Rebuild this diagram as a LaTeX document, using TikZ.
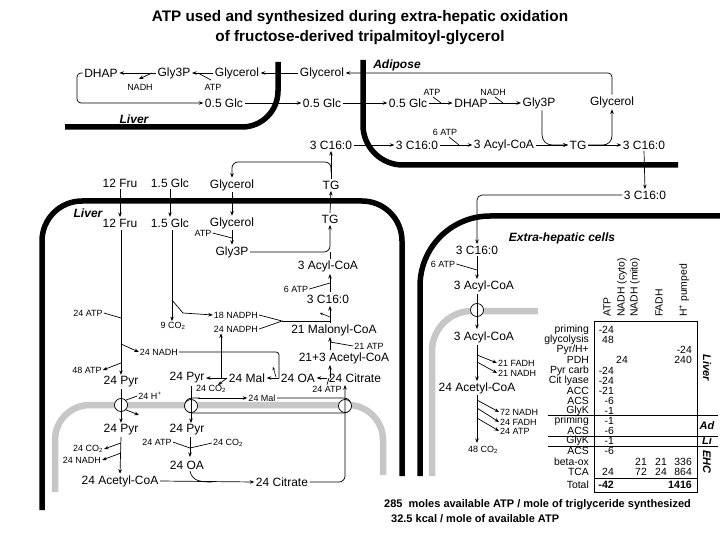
\documentclass[tikz,border=0pt]{standalone}
\usepackage{fontspec}
\setmainfont{Liberation Sans}
\usetikzlibrary{arrows.meta}
\begin{document}
\begin{tikzpicture}[x=1pt,y=-1pt,
  big/.style={font=\fontsize{12}{14}\selectfont, inner sep=1.5pt},
  sm/.style={font=\fontsize{9}{10}\selectfont, inner sep=1pt},
  tb/.style={font=\fontsize{10.4}{12}\selectfont, inner sep=0pt},
  lab/.style={font=\bfseries\itshape\fontsize{12}{14}\selectfont, inner sep=0pt},
  tlab/.style={font=\bfseries\itshape\fontsize{11}{12}\selectfont, inner sep=0pt},
  ar/.style={line width=0.7pt, -{Stealth[length=4.5pt,width=3.5pt]}},
  sar/.style={line width=0.6pt, -{Stealth[length=3pt,width=2.6pt]}},
  ln/.style={line width=0.7pt},
  memb/.style={line width=5.5pt},
  mito/.style={line width=6.5pt, draw=black!22},
  port/.style={circle, draw, fill=white, line width=0.7pt, minimum size=13pt, inner sep=0pt}]
\useasboundingbox (0,0) rectangle (720,540);

% ---------- title
\node[font=\bfseries\fontsize{15.3}{20}\selectfont, align=center] (title) at (360,28)
  {ATP used and synthesized during extra-hepatic oxidation\\of fructose-derived tripalmitoyl-glycerol};

% ---------- membranes
\draw[memb, rounded corners=36pt] (65,127) -- (278,127) -- (278,62);
\draw[memb, rounded corners=40pt] (363,60) -- (363,165) -- (678,165);
\draw[memb, rounded corners=40pt] (42,510) -- (42,201) -- (402,201) -- (402,476);
\draw[memb, rounded corners=70pt] (420,476) -- (420,216) -- (720,216);
\draw[mito, rounded corners=35pt] (55,492) -- (55,405) -- (383,405) -- (383,475);
\draw[mito, rounded corners=40pt] (432,476) -- (432,311) -- (538,311);

% ---------- region labels
\node[lab] (livA) at (134,119) {Liver};
\node[lab] (adip) at (397,65) {Adipose};
\node[lab] (livB) at (88,213) {Liver};
\node[lab] (ehc) at (562,238) {Extra-hepatic cells};

% ---------- top: liver / blood / adipose
\node[big] (dhap) at (101,73) {DHAP};
\node[big] (gly3pA) at (174,73) {Gly3P};
\node[big] (glycA) at (237,73) {Glycerol};
\node[big] (glycB) at (322,73) {Glycerol};
\node[sm] (nadhA) at (140,87) {NADH};
\node[sm] (atpA) at (213,87) {ATP};
\node[big] (glcA) at (224,103) {0.5 Glc};
\node[big] (glcB) at (322,103) {0.5 Glc};
\node[big] (glcC) at (408,103) {0.5 Glc};
\node[big] (dhapC) at (471,103) {DHAP};
\node[big] (gly3pC) at (539,103) {Gly3P};
\node[big] (glycC) at (612,102) {Glycerol};
\node[sm] (atpC) at (432,92) {ATP};
\node[sm] (nadhC) at (493,92) {NADH};
\node[big] (c16A) at (331,145) {3 C16:0};
\node[big] (c16B) at (417,145) {3 C16:0};
\node[big] (acylC) at (504,145) {3 Acyl-CoA};
\node[big] (tgC) at (578,145) {TG};
\node[big] (c16C) at (644,145) {3 C16:0};
\node[sm] (atp6C) at (445,132) {6 ATP};
\node[big] (c16D) at (645,195) {3 C16:0};

\draw[ar] (gly3pA.west) -- (dhap.east);
\draw[ar] (152,73) -- (139,79);
\draw[ar] (glycA.west) -- (gly3pA.east);
\draw[ln] (198,73) -- (211,80);
\draw[ar] (glycB.west) -- (glycA.east);
\draw[ar, rounded corners=4pt] (dhap.west) -- (77,73) -- (77,103) -- (glcA.west);
\draw[ar] (glcA.east) -- (glcB.west);
\draw[ar] (glcB.east) -- (glcC.west);
\draw[ar, rounded corners=4pt] (glycC.north) |- (glycB.east);
\draw[ar] (glcC.east) -- (dhapC.west);
\draw[ln] (433,97) -- (441,103);
\draw[ar] (dhapC.east) -- (gly3pC.west);
\draw[ln] (495,97) -- (503,103);
\draw[ar, rounded corners=10pt] ([xshift=3pt]gly3pC.south) |- (tgC.west);
\draw[ar] (acylC.east) -- (tgC.west);
\draw[ar] (tgC.east) -- (c16C.west);
\draw[ar, rounded corners=9pt] (tgC.east) -| (glycC.south);
\draw[ar] (c16B.east) -- (acylC.west);
\draw[ln] (449,137) -- (459,145);
\draw[ar] (c16A.east) -- (c16B.west);
\draw[ar] (c16C.south) -- (c16D.north);

% ---------- blood between liver and adipose
\node[big] (fruO) at (120,183) {12 Fru};
\node[big] (glcO) at (170,183) {1.5 Glc};
\node[big] (glycO) at (232,185) {Glycerol};
\node[big] (tgO) at (331,185) {TG};
\draw[ar] (tgO.north) -- (c16A.south);
\draw[ar, rounded corners=6pt] (331,172) -- (331,162) -- (232,162) -- (glycO.north);

% ---------- liver (lower)
\node[big] (fruI) at (120,223) {12 Fru};
\node[big] (glcI) at (170,223) {1.5 Glc};
\node[big] (glycI) at (232,223) {Glycerol};
\node[big] (tgI) at (330,219) {TG};
\node[sm] (atpI) at (203,233) {ATP};
\node[big] (gly3pI) at (232,252) {Gly3P};
\node[big] (acylI) at (328,266) {3 Acyl-CoA};
\node[sm] (atp6I) at (296,289) {6 ATP};
\node[big] (c16I) at (328,299) {3 C16:0};
\node[big] (malcoa) at (334,330) {21 Malonyl-CoA};
\node[sm] (nadph18) at (236,315) {18 NADPH};
\node[sm] (nadph24) at (236,329) {24 NADPH};
\node[sm] (co2a) at (173,326) {9 CO\textsubscript{2}};
\node[sm] (atp24a) at (88,313) {24 ATP};
\node[sm] (nadh24a) at (159,352) {24 NADH};
\node[sm] (atp48) at (87,370) {48 ATP};
\node[big] (acetyl) at (344,358) {21+3 Acetyl-CoA};
\node[sm] (atp21) at (369,346) {21 ATP};
\node[big] (pyrA) at (121,382) {24 Pyr};
\node[big] (pyrB) at (187,378) {24 Pyr};
\node[big] (mal) at (247,378) {24 Mal};
\node[big] (oa) at (298,378) {24 OA};
\node[big] (cit) at (355,378) {24 Citrate};
\node[sm] (atp24b) at (327,389) {24 ATP};
\node[sm] (co2b) at (211,389) {24 CO\textsubscript{2}};
\node[sm] (hplus) at (150,396) {24 H\textsuperscript{+}};
\node[sm] (malm) at (262,398) {24 Mal};
\node[big] (pyrC) at (121,430) {24 Pyr};
\node[big] (pyrD) at (187,430) {24 Pyr};
\node[sm] (atp24c) at (157,442) {24 ATP};
\node[sm] (co2c) at (228,443) {24 CO\textsubscript{2}};
\node[sm] (co2d) at (88,449) {24 CO\textsubscript{2}};
\node[sm] (nadhd) at (82,460) {24 NADH};
\node[big] (oaM) at (187,465) {24 OA};
\node[big] (acetylM) at (120,481) {24 Acetyl-CoA};
\node[big] (citM) at (282,482) {24 Citrate};

\draw[ar] (fruO.south) -- (fruI.north);
\draw[ar] (glcO.south) -- (glcI.north);
\draw[ar] (glycO.south) -- (glycI.north);
\draw[ar] (tgI.north) -- (tgO.south);
\draw[ar] (glycI.south) -- (gly3pI.north);
\draw[ln] (atpI.east) -- (232,238);
\draw[ar, rounded corners=6pt] (gly3pI.east) -- (330,252) -- (tgI.south);
\draw[ln] (330,259) -- (330,252);
\draw[ar] (330,292) -- (330,274);
\draw[ln] (atp6I.east) -- (330,283);
\draw[ar] (330,323) -- (330,306);
\draw[ln] (nadph18.east) -- (282,321) -- (nadph24.east);
\draw[ln] (282,321) -- (330,321);
\draw[sar] (330,317) -- (320,313);
\draw[ar] (330,350) -- (330,337);
\draw[ln] (330,342) -- (atp21.west);
\draw[ar] (cit.west) -- (oa.east);
\draw[ar] (330,378) -- (330,365);
\draw[ln] (atp24b.north) -- (329,378);
\draw[ar] (oa.west) -- (mal.east);
\draw[ln, rounded corners=3pt] (nadh24a.east) -- (279,352) -- (279,378);
\draw[sar] (276,377) -- (273,367);
\draw[ar] (mal.west) -- (pyrB.east);
\draw[ar] (221,378) -- (nadph24.south -| 221,0);
\draw[ar] (227,378) -- (218,385);
\draw[ar] (172,230) -- (co2a.north -| 172,0);
\draw[ar] (172,300) -- (183,313) -- (nadph18.west);
\draw[ar] (121,230) -- (pyrA.north);
\draw[ln] (atp24a.east) -- (121,318);
\draw[ar] (121,344) -- (nadh24a.west);
\draw[ar] (121,363) -- (atp48.east);

% transporters
\draw[ln, rounded corners=7pt] (277,398) -- (351,398) -- (351,413) -- (185,413) -- (185,398) -- (200,398);
\draw[ar] (198,398) -- (malm.west);
\node[port] (p1) at (121,405) {};
\node[port] (p2) at (191,406) {};
\node[port] (p3) at (345,406) {};
\draw[ar] (pyrA.south) -- (pyrC.north);
\draw[ln] (hplus.west) -- (p1.north east);
\draw[ar] (p1.south east) -- (139,415);
\draw[ar] (191,386) -- (191,423);
\draw[ar] (pyrC.south) -- (acetylM.north);
\draw[ar] (121,443) -- (co2d.east);
\draw[ar] (121,453) -- (nadhd.east);
\draw[ar] (190,437) -- (190,457);
\draw[ln] (atp24c.east) -- (190,448);
\draw[ln] (co2c.west) -- (190,448);
\draw[ar] (acetylM.east) -- (citM.west);
\draw[ln] (oaM.south -| 190,0) .. controls (192,480) and (198,482) .. (212,482);
\draw[ar, rounded corners=6pt] (citM.east) -- (345,482) -- (345,385);

% ---------- extra-hepatic cells
\node[big] (c16E) at (477,250) {3 C16:0};
\node[sm] (atp6E) at (443,264) {6 ATP};
\node[big] (acylE) at (484,286) {3 Acyl-CoA};
\node[big] (acylF) at (484,337) {3 Acyl-CoA};
\node[sm, anchor=west] (fadh21) at (497,363) {21 FADH};
\node[sm, anchor=west] (nadh21) at (497,373) {21 NADH};
\node[big] (acetE) at (477,388) {24 Acetyl-CoA};
\node[sm, anchor=west] (nadh72) at (499,412) {72 NADH};
\node[sm, anchor=west] (fadh24) at (499,422) {24 FADH};
\node[sm, anchor=west] (atp24e) at (499,431) {24 ATP};
\node[sm] (co2e) at (483,450) {48 CO\textsubscript{2}};
\node[port] (p4) at (477,310) {};
\draw[ar, rounded corners=5pt] (c16D.west) -| (c16E.north);
\draw[ar] (c16E.south) -- (477,279);
\draw[ln] (atp6E.east) -- (477,270);
\draw[ar] (477,294) -- (477,329);
\draw[ar] (477,345) -- (477,381);
\draw[ar] (477,355) -- (fadh21.west);
\draw[ar] (477,362) -- (nadh21.west);
\draw[ar] (477,395) -- (477,443);
\draw[ar] (477,400) -- (nadh72.west);
\draw[ar] (477,408) -- (fadh24.west);
\draw[ar] (477,418) -- (atp24e.west);

% ---------- table
\foreach \t/\xx in {ATP/607, NADH (cyto)/622, NADH (mito)/635, FADH/659}
  \node[tb, rotate=90, anchor=west] at (\xx,317) {\t};
\node[tb, rotate=90, anchor=west] (hpump) at (684,317) {H\textsuperscript{+} pumped};
\draw[ln] (594,321) rectangle (697,492);
\draw[ln] (548,415) -- (718,415);
\draw[ln] (548,436) -- (718,436);
\draw[ln] (548,446) -- (718,446);
\draw[ln] (594,478) -- (697,478);
\foreach \r/\yy in {priming/330, glycolysis/340, PDH/360, Pyr carb/370.5, Cit lyase/380.7, ACC/391, ACS/401, GlyK/411, priming/420.5, ACS/431, GlyK/441, ACS/451, beta-ox/461.5, TCA/471.5, Total/485}
  \node[tb, anchor=east] at (589,\yy) {\r};
\node[tb, anchor=east] (pyrh) at (589,350) {Pyr/H+};
% ATP column
\foreach \v/\yy in {-24/330, 48/340, -24/370.5, -24/380.7, -21/391, -6/401, -1/411, -1/420.5, -6/431, -1/441, -6/451, 24/471.5}
  \node[tb, anchor=east] at (614,\yy) {\v};
\node[tb, anchor=east] at (628,360) {24};
\node[tb, anchor=east] at (647,461.5) {21};
\node[tb, anchor=east] at (647,471.5) {72};
\node[tb, anchor=east] at (667,461.5) {21};
\node[tb, anchor=east] at (667,471.5) {24};
\node[tb, anchor=east] at (692,350) {-24};
\node[tb, anchor=east] at (692,360) {240};
\node[tb, anchor=east] at (692,461.5) {336};
\node[tb, anchor=east] at (692,471.5) {864};
\node[tb, anchor=east, font=\bfseries\fontsize{10.6}{12}\selectfont] at (614,485) {-42};
\node[tb, anchor=east, font=\bfseries\fontsize{10.6}{12}\selectfont] at (692,485) {1416};
\node[tlab, rotate=-90] at (707,368) {Liver};
\node[tlab] at (707,426) {Ad};
\node[tlab] at (707,441) {Li};
\node[tlab, rotate=-90] at (707,462) {EHC};

% ---------- bottom text
\node[anchor=west, inner sep=0pt, font=\bfseries\fontsize{11}{12}\selectfont] (sumA) at (384,505) {285\ \ moles available ATP / mole of triglyceride synthesized};
\node[anchor=west, inner sep=0pt, font=\bfseries\fontsize{11}{12}\selectfont] (sumB) at (391,519) {32.5 kcal / mole of available ATP};
\end{tikzpicture}
\end{document}
